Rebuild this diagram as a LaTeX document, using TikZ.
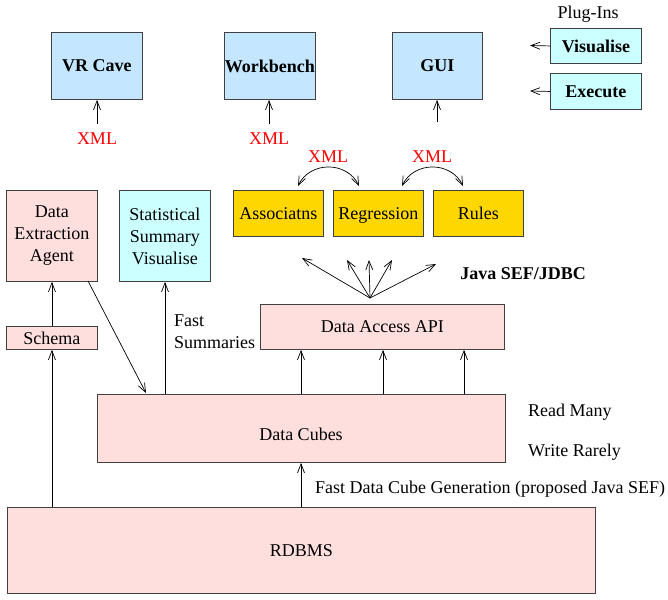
\documentclass[tikz,border=0pt]{standalone}
\usepackage{fontspec}
\setmainfont{Liberation Serif}
\usetikzlibrary{arrows.meta}
\definecolor{lblue}{RGB}{196,230,255}
\definecolor{lcyan}{RGB}{204,255,255}
\definecolor{lpink}{RGB}{255,222,222}
\definecolor{gold}{RGB}{255,215,0}
\definecolor{edge}{RGB}{64,64,64}
\begin{document}
\begin{tikzpicture}[x=1pt,y=-1pt,
  font=\fontsize{18}{22}\selectfont,
  box/.style={draw=edge,line width=0.9pt,inner sep=0pt,anchor=north west,align=center},
  bluebox/.style={box,fill=lblue,font=\fontsize{18}{22}\selectfont\bfseries},
  cyanbox/.style={box,fill=lcyan},
  pinkbox/.style={box,fill=lpink},
  goldbox/.style={box,fill=gold,text depth=0pt},
  lbl/.style={inner sep=0pt},
  xmllbl/.style={inner sep=0pt,text=red},
  arr/.style={-{Straight Barb[length=9pt,width=7pt]},line width=0.7pt,black},
  darr/.style={{Straight Barb[length=9pt,width=7pt]}-{Straight Barb[length=9pt,width=7pt]},line width=0.7pt,black}]
\useasboundingbox (0,0) rectangle (668,599);
% top row
\node[bluebox,minimum width=91pt,minimum height=67pt] (vr) at (51,32) {VR Cave};
\node[bluebox,minimum width=91pt,minimum height=67pt] (wb) at (224,32) {Workbench};
\node[bluebox,minimum width=90pt,minimum height=67pt] (gui) at (392,32) {GUI};
\node[lbl] (plug) at (588,14) {Plug-Ins};
\node[cyanbox,minimum width=91pt,minimum height=35pt,font=\fontsize{18}{22}\selectfont\bfseries] (vis) at (550,28) {Visualise};
\node[cyanbox,minimum width=91pt,minimum height=36pt,font=\fontsize{18}{22}\selectfont\bfseries] (exe) at (550,73) {Execute};
\coordinate (visend) at (530,45.5);
\coordinate (exeend) at (530,91);
\draw[arr] (vis.west) -- (visend);
\draw[arr] (exe.west) -- (exeend);
% XML under top boxes
\node[xmllbl] (x1) at (97,139) {XML};
\node[xmllbl] (x2) at (269,139) {XML};
\coordinate (guiin) at (437,122);
\draw[arr,shorten <=9pt] (x1) -- (x1 |- vr.south);
\draw[arr,shorten <=9pt] (x2) -- (x2 |- wb.south);
\draw[arr] (guiin) -- (guiin |- gui.south);
% analysis boxes
\node[goldbox,minimum width=90pt,minimum height=46pt] (assoc) at (233,190) {Associatns};
\node[goldbox,minimum width=90pt,minimum height=46pt] (regr) at (333,190) {Regression};
\node[goldbox,minimum width=90pt,minimum height=46pt] (rules) at (433,190) {Rules};
\node[xmllbl] (x3) at (328,157) {XML};
\node[xmllbl] (x4) at (432,157) {XML};
\coordinate (c1a) at (298,186);
\coordinate (c1b) at (359,186);
\coordinate (c2a) at (402,186);
\coordinate (c2b) at (463,186);
\draw[darr] (c1a) .. controls (310,161) and (347,161) .. (c1b);
\draw[darr] (c2a) .. controls (414,161) and (451,161) .. (c2b);
% fan
\coordinate (fan) at (370,298);
\coordinate (f1) at (302,258);
\coordinate (f2) at (347,260);
\coordinate (f3) at (369,260);
\coordinate (f4) at (392,260);
\coordinate (f5) at (436,264);
\foreach \t in {f1,f2,f3,f4,f5} \draw[arr] (fan) -- (\t);
\node[lbl,font=\fontsize{18}{22}\selectfont\bfseries] (java) at (523,274) {Java SEF/JDBC};
% left column
\node[pinkbox,minimum width=91pt,minimum height=91pt] (dea) at (6,190) {Data\\Extraction\\Agent};
\node[cyanbox,minimum width=91pt,minimum height=91pt] (stat) at (119,190) {Statistical\\Summary\\Visualise};
\node[pinkbox,minimum width=91pt,minimum height=23pt] (schema) at (6,326) {Schema};
\node[lbl,anchor=west,align=left] (fast) at (174,332) {Fast\\Summaries};
% data access
\node[pinkbox,minimum width=244pt,minimum height=45pt] (api) at (260,304) {Data Access API};
% data cubes
\node[pinkbox,minimum width=408pt,minimum height=68pt] (cubes) at (97,394) {};
\node[lbl] (cubestxt) at (301,434) {Data Cubes};
\node[lbl,anchor=west] (rm) at (528,412) {Read Many};
\node[lbl,anchor=west] (wr) at (528,452) {Write Rarely};
% rdbms
\node[pinkbox,minimum width=588pt,minimum height=86pt] (rdbms) at (7,507) {RDBMS};
\node[lbl,anchor=west] (gen) at (315,489) {Fast Data Cube Generation (proposed Java SEF)};
% connectors
\coordinate (p1) at (301,0);
\coordinate (p2) at (383,0);
\coordinate (p3) at (464,0);
\coordinate (p4) at (165,0);
\draw[arr] (cubes.north -| p1) -- (api.south -| p1);
\draw[arr] (cubes.north -| p2) -- (api.south -| p2);
\draw[arr] (cubes.north -| p3) -- (api.south -| p3);
\draw[arr] (cubes.north -| p4) -- (stat.south -| p4);
\draw[arr] (rdbms.north -| p1) -- (cubes.south -| p1);
\coordinate (dea1) at (88,281);
\coordinate (cub1) at (146,393);
\draw[arr] (dea1) -- (cub1);
\draw[arr] (schema.north) -- (dea.south);
\draw[arr] (rdbms.north -| schema.south) -- (schema.south);
\end{tikzpicture}
\end{document}
